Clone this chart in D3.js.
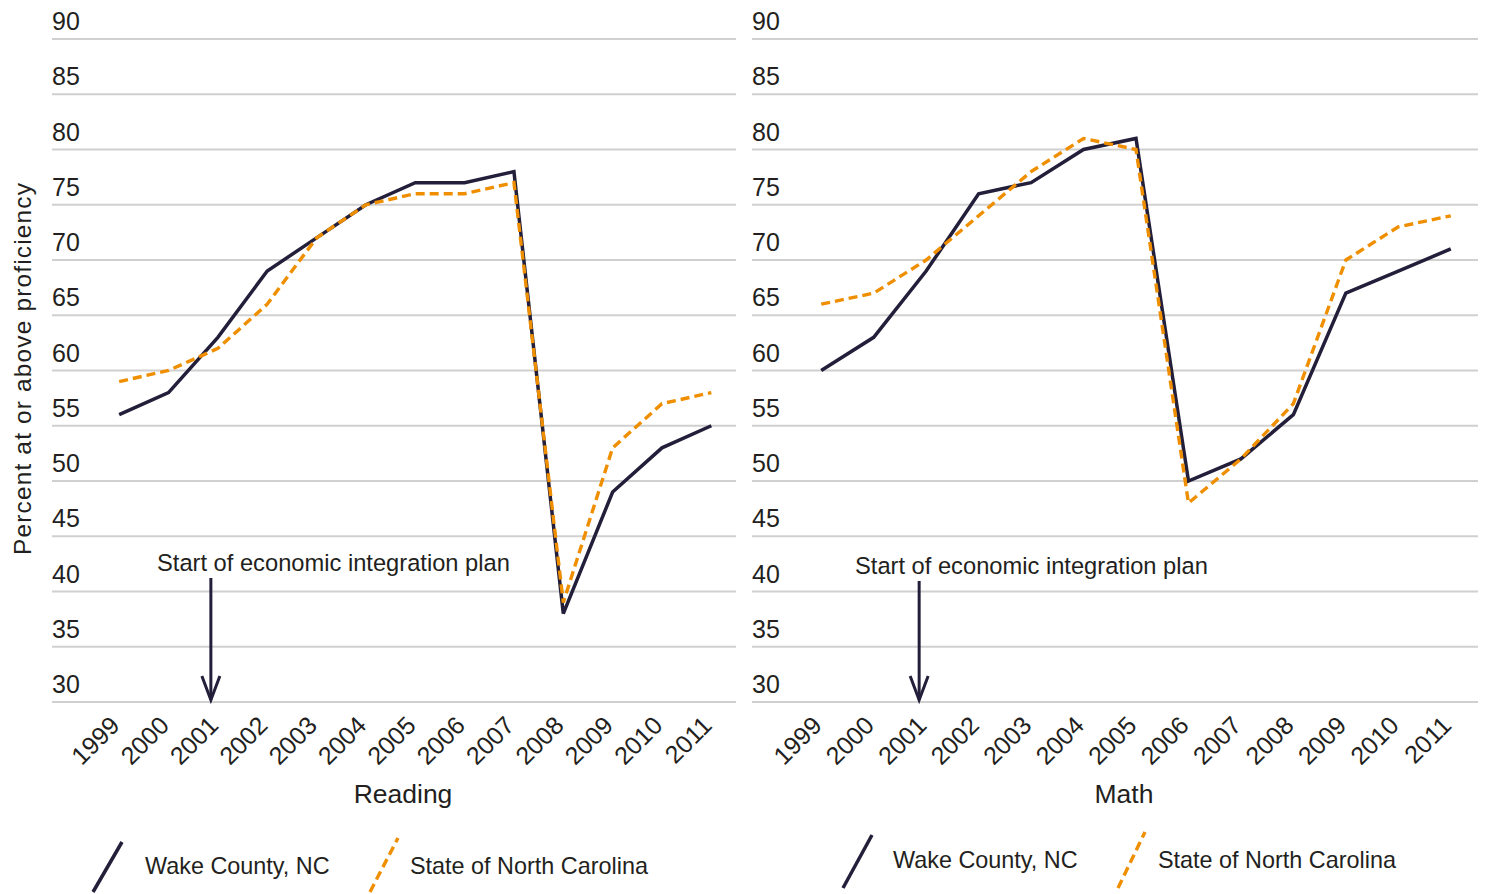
<!DOCTYPE html>
<html>
<head>
<meta charset="utf-8">
<script src="https://cdn.jsdelivr.net/npm/d3@7"></script>
<style>
  html, body { margin: 0; padding: 0; background: #fff; }
  svg { display: block; }
  text { font-family: "Liberation Sans", Arial, sans-serif; fill: #231f20; }
</style>
</head>
<body>
<svg id="chart" width="1486" height="894"></svg>
<script>
// ---- Data ----
const years = [1999, 2000, 2001, 2002, 2003, 2004, 2005, 2006, 2007, 2008, 2009, 2010, 2011];
const readingWake  = [56, 58, 63, 69, 72, 75, 77, 77, 78, 38, 49, 53, 55];
const readingState = [59, 60, 62, 66, 72, 75, 76, 76, 77, 39, 53, 57, 58];
const mathWake     = [60, 63, 69, 76, 77, 80, 81, 50, 52, 56, 67, 69, 71];
const mathState    = [66, 67, 70, 74, 78, 81, 80, 48, 52, 57, 70, 73, 74];
const yTicks = [30, 35, 40, 45, 50, 55, 60, 65, 70, 75, 80, 85, 90];
const seriesNames = ["Wake County, NC", "State of North Carolina"];
const panelTitles = ["Reading", "Math"];
const annotationText = "Start of economic integration plan";
const annotationYear = 2001;
const yTitle = "Percent at or above proficiency";

// ---- Style / layout ----
const WAKE = "#231f3a";
const STATE = "#ef8f00";
const GRID = "#d0d0d0";

const svg = d3.select("#chart");
const y = d3.scaleLinear().domain([30, 90]).range([702, 39]);

const panels = [
  { title: panelTitles[0], wake: readingWake, state: readingState,
    gx0: 52, gx1: 736, px0: 94.5, px1: 736, titleX: 403,
    annX: 157, annY: 571, arrowTop: 578,
    legY: 874, leg: [[93, 892, 122, 842], [370, 892, 398, 838]], legText: [145, 410] },
  { title: panelTitles[1], wake: mathWake, state: mathState,
    gx0: 752, gx1: 1478, px0: 795, px1: 1477, titleX: 1124,
    annX: 855, annY: 574, arrowTop: 581,
    legY: 868, leg: [[843, 888, 872, 835], [1118, 888, 1145, 832]], legText: [893, 1158] }
];

panels.forEach(p => {
  const g = svg.append("g");
  const x = d3.scalePoint().domain(years).range([p.px0, p.px1]).padding(0.5);

  // gridlines
  g.selectAll("line.grid").data(yTicks).join("line")
    .attr("x1", p.gx0).attr("x2", p.gx1)
    .attr("y1", d => y(d)).attr("y2", d => y(d))
    .attr("stroke", GRID).attr("stroke-width", 2);

  // y tick labels (above gridlines)
  g.selectAll("text.ytick").data(yTicks).join("text")
    .attr("x", p.gx0).attr("y", d => y(d) - 9)
    .attr("font-size", 25)
    .text(d => d);

  // x tick labels rotated
  g.selectAll("text.xtick").data(years).join("text")
    .attr("transform", d => `translate(${x(d) + 2},${727}) rotate(-45)`)
    .attr("text-anchor", "end")
    .attr("font-size", 25)
    .text(d => d);

  // panel title
  g.append("text").attr("x", p.titleX).attr("y", 803)
    .attr("text-anchor", "middle").attr("font-size", 26.5).text(p.title);

  // lines
  const line = d3.line().x((d, i) => x(years[i])).y(d => y(d));
  g.append("path").datum(p.wake).attr("d", line)
    .attr("fill", "none").attr("stroke", WAKE).attr("stroke-width", 3.5)
    .attr("stroke-linejoin", "miter");
  g.append("path").datum(p.state).attr("d", line)
    .attr("fill", "none").attr("stroke", STATE).attr("stroke-width", 3.4)
    .attr("stroke-dasharray", "9,5");

  // annotation
  g.append("text").attr("x", p.annX).attr("y", p.annY)
    .attr("font-size", 23.7).text(annotationText);
  const ax = x(annotationYear) - 7;
  const ab = y(30) - 2;
  g.append("line").attr("x1", ax).attr("x2", ax).attr("y1", p.arrowTop).attr("y2", ab)
    .attr("stroke", WAKE).attr("stroke-width", 3);
  g.append("path")
    .attr("d", `M${ax - 9},${ab - 24} L${ax},${ab} L${ax + 9},${ab - 24}`)
    .attr("fill", "none").attr("stroke", WAKE).attr("stroke-width", 3);

  // legend
  g.append("line").attr("x1", p.leg[0][0]).attr("y1", p.leg[0][1])
    .attr("x2", p.leg[0][2]).attr("y2", p.leg[0][3])
    .attr("stroke", WAKE).attr("stroke-width", 3.5);
  g.append("line").attr("x1", p.leg[1][0]).attr("y1", p.leg[1][1])
    .attr("x2", p.leg[1][2]).attr("y2", p.leg[1][3])
    .attr("stroke", STATE).attr("stroke-width", 3.4).attr("stroke-dasharray", "9,5");
  g.append("text").attr("x", p.legText[0]).attr("y", p.legY)
    .attr("font-size", 23.4).text(seriesNames[0]);
  g.append("text").attr("x", p.legText[1]).attr("y", p.legY)
    .attr("font-size", 23.4).text(seriesNames[1]);
});

// y axis title
svg.append("text")
  .attr("transform", "translate(31,369) rotate(-90)")
  .attr("text-anchor", "middle").attr("font-size", 24.5)
  .attr("textLength", 372).attr("lengthAdjust", "spacing")
  .text(yTitle);
</script>
</body>
</html>
